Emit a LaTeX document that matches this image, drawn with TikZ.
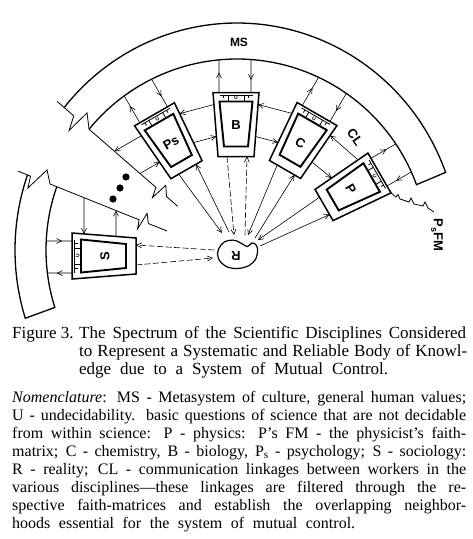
\documentclass[tikz,border=0pt]{standalone}
\usepackage{fontspec}
\setmainfont{Liberation Serif}
\setsansfont{Liberation Sans}
\usetikzlibrary{arrows.meta,decorations.markings,intersections}

\tikzset{
  band/.style={line width=1.3pt, line join=miter},
  obox/.style={line width=1.5pt, line join=miter},
  ibox/.style={line width=1.9pt, line join=miter},
  cellln/.style={line width=0.8pt},
  thinln/.style={line width=0.6pt},
  brk/.style={line width=0.8pt, line join=miter},
  arr/.style={thinln, -{Straight Barb[length=5pt,width=5pt]}},
  darr/.style={arr, dash pattern=on 6pt off 2.5pt},
  midarr/.style={thinln, postaction={decorate}, decoration={markings, mark=at position 0.62 with {\arrow{Straight Barb[length=5pt,width=5pt]}}}},
  lbl/.style={font=\sffamily\bfseries\fontsize{13}{13}\selectfont, inner sep=0},
  ulbl/.style={font=\sffamily\bfseries\fontsize{5}{5}\selectfont, inner sep=0},
  capt/.style={font=\fontsize{17}{18}\selectfont, inner sep=0, anchor=base west},
  nom/.style={font=\fontsize{16}{18}\selectfont, inner sep=0, anchor=base west},
}

\newcommand\hitpt[4]{%
  \path[name path=hitln] (#2) -- (#3);
  \path[name intersections={of=#1 and hitln, by={#4}}];}

\newcommand\discbox[4]{%
  \begin{scope}[shift={#2}, rotate=#3, yscale=-1]
    \draw[obox] (-23,32) -- (23,32) -- (18,-32) -- (-18,-32) -- cycle;
    \draw[ibox] (-16.5,23) -- (16.5,23) -- (12,-22) -- (-12,-22) -- cycle;
    \draw[cellln] (-16.5,29.5) -- (16.5,29.5) (-8,23) -- (-8,29.5) (8,23) -- (8,29.5)
      (-12.5,29.5) -- (-12.5,26.5) (12.5,29.5) -- (12.5,26.5);
    \node[ulbl, rotate=#3] (#1-u) at (0,26.2) {U};
    \node[lbl, rotate=#3] (#1-l) at (0,-1) {#4};
    \coordinate (#1-to) at (-17,32);
    \coordinate (#1-tof) at (-17,120);
    \coordinate (#1-ti) at (15,32);
    \coordinate (#1-tif) at (15,120);
    \coordinate (#1-bo) at (-9,-32);
    \coordinate (#1-bi) at (11,-32);
    \coordinate (#1-Lhi) at (-22.06,20);
    \coordinate (#1-Llo) at (-19.56,-12);
    \coordinate (#1-Rhi) at (22.06,20);
    \coordinate (#1-Rlo) at (19.56,-12);
    \coordinate (#1-Lhif) at (-100,20);
    \coordinate (#1-Llof) at (-100,-12);
    \coordinate (#1-Rhif) at (100,20);
    \coordinate (#1-Rlof) at (100,-12);
    \coordinate (#1-cr) at (23,32);
  \end{scope}}

\begin{document}
\begin{tikzpicture}[x=1pt,y=-1pt]
\useasboundingbox (0,0) rectangle (472,539);
\fill[white] (0,0) rectangle (472,539);

% upper MS band
\draw[band] plot[domain=141.1:20, samples=90] ({237+222*cos(\x)},{250-227*sin(\x)})
  -- plot[domain=20:140.77, samples=90] ({237+191*cos(\x)},{250-191*sin(\x)});
\path[name path=innerU] plot[domain=20:140.77, samples=90] ({237+191*cos(\x)},{250-191*sin(\x)});
% lower MS band
\draw[band] plot[domain=160.7:197.5, samples=40] ({237+222*cos(\x)},{250-227*sin(\x)})
  -- plot[domain=197.5:160.6, samples=40] ({237+191*cos(\x)},{250-191*sin(\x)});
\path[name path=innerL] plot[domain=160.6:197.5, samples=40] ({237+191*cos(\x)},{250-191*sin(\x)});

\node[lbl, font=\sffamily\bfseries\fontsize{12}{12}\selectfont] (MS) at (239,42) {MS};

% break lines
\draw[brk, name path=lineU] (57,101.3) -- (64.1,107.5) -- (73.8,115.9) -- (69.13,130.4)
  -- (87.04,112.86) -- (89.05,129.2) -- (155.97,187.4) -- (152.43,197.57)
  -- (165.75,185.31) -- (166.53,196.6) -- (177.8,206.4);
\draw[brk, name path=lineL] (18,171.1) -- (27.45,174.94) -- (30.51,176.17) -- (27.89,188.05)
  -- (47.06,169.88) -- (50,184) -- (139.09,219.81) -- (137.58,228.9)
  -- (147.09,213.32) -- (148.37,223.54) -- (166.93,231.0);

% dots
\fill (126,177) circle (3.6);
\fill (120,188) circle (3.6);
\fill (113,199) circle (3.6);

% discipline boxes
\discbox{B}{(236,124.5)}{0}{B}
\discbox{Ps}{(170.5,142)}{30}{Ps}
\discbox{C}{(301,141.75)}{-30}{C}
\discbox{P}{(351.75,189)}{-60}{P}
\discbox{S}{(104,256)}{90}{S}

% reality
\draw[line width=1.2pt] plot[smooth cycle, tension=0.7] coordinates {(221,245) (228,240.5) (236.5,240.8) (242.5,244) (247.5,246.5) (252,243) (256.5,245.5) (257.5,253) (253.5,262) (244,267.5) (231,268) (221.5,263) (217.5,254)};
\node[lbl, rotate=180] (R) at (236,256) {R};

% links with MS
\hitpt{innerU}{B-to}{B-tof}{B-tox}
\hitpt{innerU}{B-ti}{B-tif}{B-tix}
\hitpt{innerU}{Ps-to}{Ps-tof}{Ps-tox}
\hitpt{innerU}{Ps-ti}{Ps-tif}{Ps-tix}
\hitpt{innerU}{C-to}{C-tof}{C-tox}
\hitpt{innerU}{C-ti}{C-tif}{C-tix}
\hitpt{innerU}{P-to}{P-tof}{P-tox}
\hitpt{innerU}{P-ti}{P-tif}{P-tix}
\hitpt{innerL}{S-to}{S-tof}{S-tox}
\hitpt{innerL}{S-ti}{S-tif}{S-tix}
\foreach \b in {B,Ps,C,P,S}{
  \draw[midarr] (\b-to) -- (\b-tox);
  \draw[midarr] (\b-tix) -- (\b-ti);
}

% links between neighbours
\draw[arr] (B-Lhi) -- (Ps-Rhi);
\draw[arr] (Ps-Rlo) -- (B-Llo);
\draw[arr] (C-Lhi) -- (B-Rhi);
\draw[arr] (B-Rlo) -- (C-Llo);
\draw[arr] (P-Lhi) -- (C-Rhi);
\draw[arr] (C-Rlo) -- (P-Llo);
\node[lbl, rotate=-55] (CL) at (355,137) {CL};
\hitpt{lineU}{Ps-Lhi}{Ps-Lhif}{Ps-Lx}
\hitpt{lineU}{Ps-Llo}{Ps-Llof}{Ps-Ly}
\draw[arr] (Ps-Lhi) -- (Ps-Lx);
\draw[arr] (Ps-Ly) -- (Ps-Llo);
\hitpt{lineL}{S-Rhi}{S-Rhif}{S-Rx}
\hitpt{lineL}{S-Rlo}{S-Rlof}{S-Ry}
\draw[arr] (S-Rx) -- (S-Rhi);
\draw[arr] (S-Rlo) -- (S-Ry);

% links with reality
\coordinate (rPs1) at (222,233);
\coordinate (rPs2) at (229,232);
\coordinate (rB1) at (234,235);
\coordinate (rB2) at (245,235);
\coordinate (rC1) at (248,235);
\coordinate (rC2) at (255,238);
\coordinate (rP1) at (258,240);
\coordinate (rP2) at (260,246);
\coordinate (rS1) at (214,250);
\coordinate (rS2) at (213,258);
\draw[arr] (Ps-bo) -- (rPs1);
\draw[arr] (rPs2) -- (Ps-bi);
\draw[darr] (B-bo) -- (rB1);
\draw[darr] (rB2) -- (B-bi);
\draw[arr] (C-bo) -- (rC1);
\draw[arr] (rC2) -- (C-bi);
\draw[arr] (P-bo) -- (rP1);
\draw[arr] (rP2) -- (P-bi);
\draw[darr] (rS1) -- (S-bi);
\draw[darr] (S-bo) -- (rS2);

% physicist's faith-matrix
\draw[brk] (P-cr) -- (396,197) -- (398,194.5) -- (400,199) -- (409,202) -- (411,198)
  -- (414,204) -- (423,206) -- (425,202) -- (428,208) -- (434,212);
\node[lbl, rotate=-90, font=\sffamily\bfseries\fontsize{13}{13}\selectfont] (PFM) at (437,235)
  {P\raisebox{-0.35ex}{\fontsize{9}{9}\selectfont s}FM};

% caption
\node[capt] (cap1a) at (12,338) {Figure 3.};
\node[capt] (cap1b) at (79,338) {\makebox[387pt][s]{The Spectrum of the Scientific Disciplines Considered}};
\node[capt] (cap2) at (79,356) {\makebox[388pt][s]{to Represent a Systematic and Reliable Body of Knowl-}};
\node[capt] (cap3) at (79,374) {\makebox[309pt][s]{edge due to a System of Mutual Control.}};
\node[nom] (nom1) at (12,402) {\makebox[454pt][s]{\textit{Nomenclature}: MS - Metasystem of culture, general human values;}};
\node[nom] (nom2) at (12,420) {\makebox[454pt][s]{U - undecidability. basic questions of science that are not decidable}};
\node[nom] (nom3) at (12,438) {\makebox[454pt][s]{from within science: P - physics: P’s FM - the physicist’s faith-}};
\node[nom] (nom4) at (12,456) {\makebox[454pt][s]{matrix; C - chemistry, B - biology, P\textsubscript{s} - psychology; S - sociology:}};
\node[nom] (nom5) at (12,474) {\makebox[454pt][s]{R - reality; CL - communication linkages between workers in the}};
\node[nom] (nom6) at (12,492) {\makebox[454pt][s]{various disciplines---these linkages are filtered through the re-}};
\node[nom] (nom7) at (12,510) {\makebox[454pt][s]{spective faith-matrices and establish the overlapping neighbor-}};
\node[nom] (nom8) at (12,528) {\makebox[343pt][s]{hoods essential for the system of mutual control.}};
\end{tikzpicture}
\end{document}
